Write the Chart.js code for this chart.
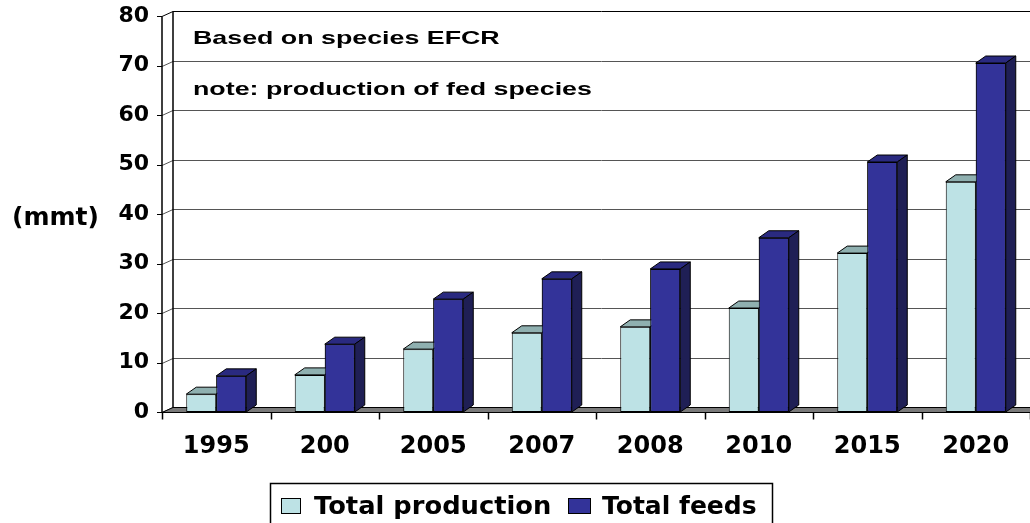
<!DOCTYPE html>
<html>
<head>
    <title>Production and feeds</title>
    <script src="https://cdn.jsdelivr.net/npm/chart.js"></script>
    <style>
        body { margin: 0; background: #fff; }
        canvas { display: block; }
    </style>
</head>
<body>
    <canvas id="chart" width="1030" height="523"></canvas>

    <script>
        // data
        var years = ["1995", "200", "2005", "2007", "2008", "2010", "2015", "2020"];
        var totalProduction = [3.6, 7.5, 12.7, 16.0, 17.2, 21.0, 32.1, 46.5];
        var totalFeeds = [7.3, 13.7, 22.8, 26.9, 28.9, 35.2, 50.5, 70.5];
        var yMax = 80;
        var yStep = 10;
        var unitLabel = "(mmt)";
        var notes = ["Based on species EFCR", "note: production of fed species"];
        var seriesNames = ["Total production", "Total feeds"];

        // colours
        var prodFront = "#bde2e5", prodTop = "#8fb0b0", prodSide = "#6f9090";
        var feedFront = "#333399", feedTop = "#2a2a80", feedSide = "#1f1f55";

        // 3d offsets (bars and back wall)
        var barDX = 10, barDY = 7;
        var wallDX = 11, wallDY = 5;

        function poly(ctx, pts, fill) {
            ctx.beginPath();
            ctx.moveTo(pts[0][0], pts[0][1]);
            for (var i = 1; i < pts.length; i++) ctx.lineTo(pts[i][0], pts[i][1]);
            ctx.closePath();
            ctx.fillStyle = fill;
            ctx.fill();
            ctx.stroke();
        }

        function drawFaces(ctx, meta, top, side) {
            ctx.save();
            ctx.strokeStyle = "#000";
            ctx.lineWidth = 1;
            meta.data.forEach(function (bar) {
                var p = bar.getProps(["x", "y", "base", "width"], true);
                var x0 = p.x - p.width / 2, x1 = p.x + p.width / 2;
                poly(ctx, [[x0, p.y], [x1, p.y], [x1 + barDX, p.y - barDY], [x0 + barDX, p.y - barDY]], top);
                poly(ctx, [[x1, p.y], [x1 + barDX, p.y - barDY], [x1 + barDX, p.base - barDY], [x1, p.base]], side);
            });
            ctx.restore();
        }

        var fake3d = {
            id: "fake3d",
            beforeDatasetsDraw: function (chart) {
                var ctx = chart.ctx, a = chart.chartArea;
                var ys = chart.scales.y, xs = chart.scales.x;
                ctx.save();
                ctx.lineWidth = 1;

                // back wall grid + connectors on the side wall
                ys.ticks.forEach(function (t) {
                    var py = Math.round(ys.getPixelForValue(t.value)) + 0.5;
                    ctx.strokeStyle = t.value === yMax ? "#000" : "#555";
                    ctx.beginPath();
                    ctx.moveTo(a.left, py);
                    ctx.lineTo(a.left + wallDX, py - wallDY);
                    ctx.lineTo(a.right, py - wallDY);
                    ctx.stroke();
                    // tick mark
                    ctx.strokeStyle = "#000";
                    ctx.beginPath();
                    ctx.moveTo(a.left - 5, py);
                    ctx.lineTo(a.left, py);
                    ctx.stroke();
                });

                var top = Math.round(ys.getPixelForValue(yMax)) + 0.5;
                var base = Math.round(ys.getPixelForValue(0)) + 0.5;

                // wall edges
                ctx.strokeStyle = "#000";
                ctx.lineWidth = 1.5;
                ctx.beginPath();
                ctx.moveTo(a.left, top);
                ctx.lineTo(a.left, base);
                ctx.moveTo(a.left + wallDX, top - wallDY);
                ctx.lineTo(a.left + wallDX, base - wallDY);
                ctx.stroke();

                // floor
                ctx.lineWidth = 1;
                poly(ctx, [[a.left, base], [a.right + 20, base], [a.right + 20, base - wallDY],
                           [a.left + wallDX, base - wallDY]], "#7a7a7a");

                // x tick marks at category boundaries
                var step = xs.getPixelForTick(1) - xs.getPixelForTick(0);
                ctx.lineWidth = 1.5;
                for (var i = 0; i <= years.length; i++) {
                    var px = Math.round(xs.getPixelForTick(0) - step / 2 + i * step) + 0.5;
                    ctx.beginPath();
                    ctx.moveTo(px, base);
                    ctx.lineTo(px, base + 7);
                    ctx.stroke();
                }
                ctx.restore();
            },
            afterDatasetsDraw: function (chart) {
                var ctx = chart.ctx;
                var m0 = chart.getDatasetMeta(0), m1 = chart.getDatasetMeta(1);
                // production faces first, then feeds fronts again so they sit in front
                drawFaces(ctx, m0, prodTop, prodSide);
                m1.data.forEach(function (bar) { bar.draw(ctx, chart.chartArea); });
                drawFaces(ctx, m1, feedTop, feedSide);
            },
            afterDraw: function (chart) {
                var ctx = chart.ctx;
                ctx.save();
                ctx.fillStyle = "#000";
                ctx.textBaseline = "alphabetic";

                // notes on the back wall (wide bold sans)
                ctx.font = "bold 19px 'Liberation Sans', Arial, sans-serif";
                [[44, notes[0]], [95, notes[1]]].forEach(function (n) {
                    ctx.save();
                    ctx.translate(193, n[0]);
                    ctx.scale(1.41, 1);
                    ctx.fillText(n[1], 0, 0);
                    ctx.restore();
                });

                // unit label
                ctx.font = "bold 25px 'DejaVu Sans', sans-serif";
                ctx.textBaseline = "middle";
                ctx.fillText(unitLabel, 12, 218);

                // legend box
                ctx.lineWidth = 1.5;
                ctx.strokeStyle = "#000";
                ctx.strokeRect(270.5, 483.5, 502, 60);
                ctx.lineWidth = 1;
                ctx.fillStyle = prodFront;
                ctx.fillRect(281.5, 498.5, 19, 15);
                ctx.strokeRect(281.5, 498.5, 19, 15);
                ctx.fillStyle = feedFront;
                ctx.fillRect(568.5, 498.5, 22, 15);
                ctx.strokeRect(568.5, 498.5, 22, 15);
                ctx.fillStyle = "#000";
                ctx.textBaseline = "alphabetic";
                ctx.font = "bold 25px 'DejaVu Sans', sans-serif";
                ctx.save();
                ctx.translate(314, 514);
                ctx.scale(1.03, 1);
                ctx.fillText(seriesNames[0], 0, 0);
                ctx.restore();
                ctx.fillText(seriesNames[1], 602, 514);
                ctx.restore();
            }
        };

        var ctx = document.getElementById("chart").getContext("2d");
        var chart = new Chart(ctx, {
            type: "bar",
            data: {
                labels: years,
                datasets: [{
                    label: seriesNames[0],
                    data: totalProduction,
                    backgroundColor: prodFront,
                    borderColor: "#000",
                    borderWidth: 1,
                    borderSkipped: false
                }, {
                    label: seriesNames[1],
                    data: totalFeeds,
                    backgroundColor: feedFront,
                    borderColor: "#000",
                    borderWidth: 1,
                    borderSkipped: false
                }]
            },
            options: {
                responsive: false,
                devicePixelRatio: 1,
                animation: false,
                layout: { padding: { top: 16, left: 0, right: 0, bottom: 0 } },
                datasets: { bar: { categoryPercentage: 0.553, barPercentage: 1.0 } },
                plugins: {
                    legend: { display: false },
                    tooltip: { enabled: false }
                },
                scales: {
                    x: {
                        grid: { display: false, drawTicks: false },
                        border: { display: false },
                        ticks: {
                            color: "#000",
                            padding: 20,
                            maxRotation: 0,
                            font: { family: "'DejaVu Sans', sans-serif", size: 24, weight: "bold" }
                        },
                        afterFit: function (s) {
                            s.height = 111;
                            s.paddingLeft = 0;
                            s.paddingRight = 0;
                        }
                    },
                    y: {
                        min: 0,
                        max: yMax,
                        grid: { display: false, drawTicks: false },
                        border: { display: false },
                        ticks: {
                            stepSize: yStep,
                            color: "#000",
                            padding: 13,
                            font: { family: "'DejaVu Sans', sans-serif", size: 22, weight: "bold" }
                        },
                        afterFit: function (s) {
                            s.width = 162;
                            s.paddingTop = 0;
                            s.paddingBottom = 0;
                        }
                    }
                }
            },
            plugins: [fake3d]
        });
    </script>
</body>
</html>
